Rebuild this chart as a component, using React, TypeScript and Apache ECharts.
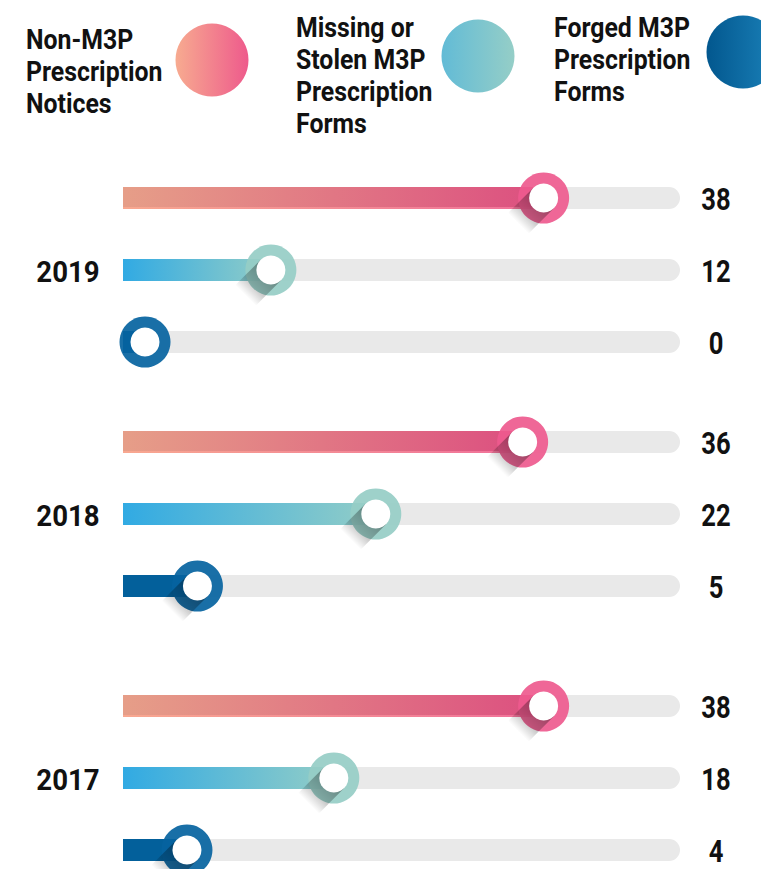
import React, { useEffect, useRef } from "react";
import * as echarts from "echarts";

const years = ["2019", "2018", "2017"];
const metricLabels = [
  "Non-M3P\nPrescription\nNotices",
  "Missing or\nStolen M3P\nPrescription\nForms",
  "Forged M3P\nPrescription\nForms",
];
const metricKeys = ["Non-M3P", "Missing or Stolen", "Forged"];
// values by year (2019, 2018, 2017)
const nonM3P = [38, 36, 38];
const missingStolen = [12, 22, 18];
const forged = [0, 5, 4];

const FONT = "Roboto, 'Liberation Sans', sans-serif";

const barColors = [
  ["#E69E88", "#DC4F80"],
  ["#31AAE3", "#92CDC7"],
  ["#03609B", "#03609B"],
];
const ringColors = ["#EE5A8E", "#96CDC6", "#0563A0"];
const legendColors = [
  ["#F7AB90", "#EE5A8C"],
  ["#62BBD6", "#95CEC7"],
  ["#02578E", "#1B82BA"],
];

export default function App() {
  const ref = useRef<HTMLDivElement>(null);
  useEffect(() => {
    if (!ref.current) return;
    const chart = echarts.init(ref.current, null, { renderer: "svg" });
    const allSeries = [nonM3P, missingStolen, forged];
    const gridTops = [198, 442, 706];

    const grids = years.map((_, i) => ({
      left: 145,
      right: 81,
      top: gridTops[i],
      height: 144,
    }));
    const xAxes = years.map((_, i) => ({
      type: "value",
      gridIndex: i,
      min: 0,
      max: 51,
      show: false,
    }));
    const yAxes = years.map((_, i) => ({
      type: "category",
      gridIndex: i,
      data: metricKeys,
      inverse: true,
      boundaryGap: false,
      show: false,
    }));

    const renderItem = (params: any, api: any) => {
      const v = api.value(0);
      const cat = api.value(1);
      const [cx, cy] = api.coord([v, cat]);
      const cs = params.coordSys;
      const m = params.dataIndex;
      const h = 22;
      const left = cs.x - 22;
      const right = cs.x + cs.width;
      const rOuter = 25.5;
      const rInner = 14.5;
      const s = Math.SQRT1_2;
      const L = 36;
      const p = [s, s];
      const d = [-s, s];
      const pts = [
        [cx + rInner * p[0], cy + rInner * p[1]],
        [cx - rInner * p[0], cy - rInner * p[1]],
        [cx - rInner * p[0] + L * d[0], cy - rInner * p[1] + L * d[1]],
        [cx + rInner * p[0] + L * d[0], cy + rInner * p[1] + L * d[1]],
      ];
      const children: any[] = [
        {
          type: "rect",
          shape: { x: left, y: cy - h / 2, width: right - left, height: h, r: [0, h / 2, h / 2, 0] },
          style: { fill: "#E9E9E9" },
        },
        {
          type: "rect",
          shape: { x: left, y: cy - h / 2, width: cx - left, height: h },
          style: {
            fill: new echarts.graphic.LinearGradient(
              left, 0, cx, 0,
              [
                { offset: 0, color: barColors[m][0] },
                { offset: 1, color: barColors[m][1] },
              ],
              true
            ),
          },
        },
      ];
      if (m === 0) {
        children.push({
          type: "rect",
          shape: { x: left, y: cy + h / 2 - 2, width: cx - left, height: 2 },
          style: {
            fill: new echarts.graphic.LinearGradient(
              left, 0, cx, 0,
              [
                { offset: 0, color: "#F8A890" },
                { offset: 1, color: "#F0709A" },
              ],
              true
            ),
          },
        });
      }
      children.push({
        type: "circle",
        shape: { cx, cy, r: rOuter },
        style: { fill: ringColors[m], opacity: 0.92 },
      });
      if (v > 0) {
        children.push({
          type: "polygon",
          shape: { points: pts },
          style: {
            fill: new echarts.graphic.LinearGradient(
              cx, cy, cx + L * d[0], cy + L * d[1],
              [
                { offset: 0, color: "rgba(0,0,0,0.36)" },
                { offset: 0.65, color: "rgba(0,0,0,0.2)" },
                { offset: 1, color: "rgba(0,0,0,0)" },
              ],
              true
            ),
          },
        });
      }
      children.push(
        { type: "circle", shape: { cx, cy, r: rInner }, style: { fill: "#fff" } },
        {
          type: "text",
          x: right + 36,
          y: cy + 1,
          scaleX: 0.8,
          style: {
            text: String(v),
            x: 0,
            y: 0,
            align: "center",
            verticalAlign: "middle",
            fontFamily: FONT,
            fontWeight: "bold",
            fontSize: 32,
            fill: "#111",
          },
        }
      );
      if (m === 1) {
        children.push({
          type: "text",
          x: cs.x - 77,
          y: cy + 2,
          scaleX: 0.92,
          style: {
            text: params.seriesName,
            x: 0,
            y: 0,
            align: "center",
            verticalAlign: "middle",
            fontFamily: FONT,
            fontWeight: "bold",
            fontSize: 30,
            fill: "#111",
          },
        });
      }
      return { type: "group", children };
    };

    const series = years.map((y, i) => ({
      type: "custom",
      name: y,
      xAxisIndex: i,
      yAxisIndex: i,
      renderItem,
      data: allSeries.map((arr, m) => [arr[i], m]),
    }));

    const legendPos = [
      { tx: 26, ty: 24, cx: 212, cy: 60 },
      { tx: 296, ty: 12, cx: 478, cy: 56 },
      { tx: 554, ty: 12, cx: 743, cy: 52 },
    ];
    const graphic: any[] = [];
    metricLabels.forEach((lab, i) => {
      const lp = legendPos[i];
      graphic.push({
        type: "text",
        x: lp.tx,
        y: lp.ty,
        scaleX: 0.92,
        style: {
          text: lab,
          x: 0,
          y: 0,
          verticalAlign: "top",
          fontFamily: FONT,
          fontWeight: "bold",
          fontSize: 27,
          lineHeight: 32,
          fill: "#111",
        },
      });
      graphic.push({
        type: "circle",
        shape: { cx: lp.cx, cy: lp.cy, r: 36.5 },
        style: {
          fill: new echarts.graphic.LinearGradient(0, 0, 1, 0, [
            { offset: 0, color: legendColors[i][0] },
            { offset: 1, color: legendColors[i][1] },
          ]),
        },
      });
    });

    chart.setOption({
      animation: false,
      grid: grids,
      xAxis: xAxes,
      yAxis: yAxes,
      series,
      graphic,
    });
    return () => chart.dispose();
  }, []);
  return (
    <div
      ref={ref}
      style={{ position: "fixed", left: 0, top: 0, width: 761, height: 869, background: "#fff" }}
    />
  );
}
